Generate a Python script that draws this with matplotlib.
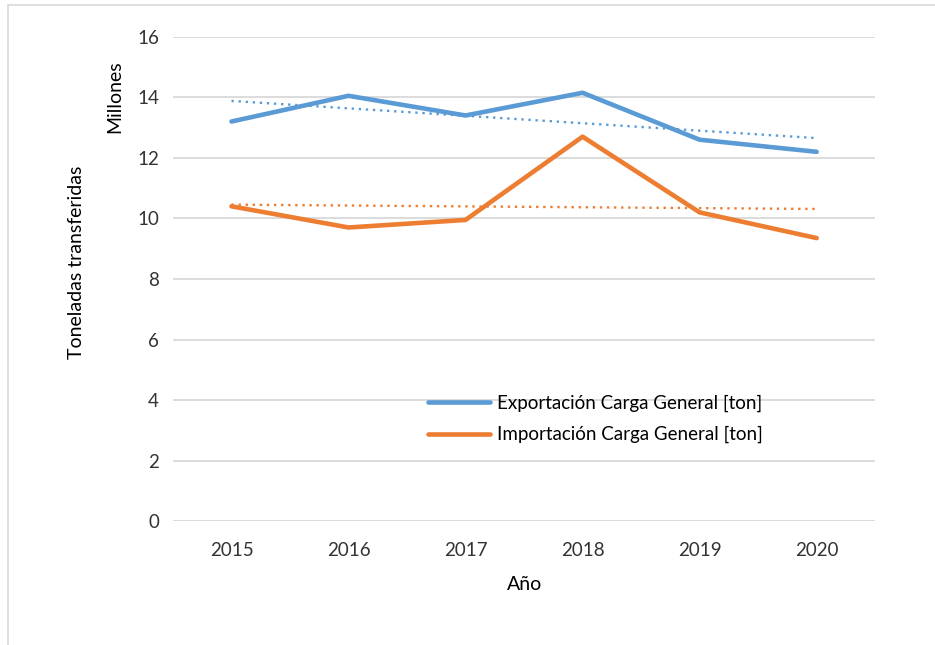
import matplotlib
matplotlib.use("Agg")
import matplotlib.pyplot as plt
import numpy as np
from matplotlib.patches import Rectangle

plt.rcParams["font.family"] = ["Lato", "DejaVu Sans"]

years = ["2015", "2016", "2017", "2018", "2019", "2020"]
exportacion = [13.2, 14.05, 13.4, 14.15, 12.6, 12.2]
importacion = [10.4, 9.7, 9.95, 12.7, 10.2, 9.35]
series_names = ["Exportación Carga General [ton]", "Importación Carga General [ton]"]
colors = ["#5B9BD5", "#ED7D31"]

fig = plt.figure(figsize=(9.35, 6.45), dpi=100)
ax = fig.add_axes([0.185, 0.192, 0.751, 0.751])

# marco del grafico
fig.patches.append(Rectangle((8 / 935, -0.1), 1.2, 1 - 5 / 645 + 0.1,
                             transform=fig.transFigure, fill=False,
                             edgecolor="#D9D9D9", linewidth=1.2))

x = np.arange(len(years))
for y, c, name in zip([exportacion, importacion], colors, series_names):
    ax.plot(x, y, color=c, linewidth=3.3, solid_capstyle="round", label=name, zorder=3)
    # linea de tendencia lineal
    m, b = np.polyfit(x, y, 1)
    ax.plot(x, m * x + b, color=c, linewidth=1.7, linestyle=(0, (1, 2.0)), zorder=3)

ax.set_xlim(-0.5, 5.5)
ax.set_ylim(0, 16)
ax.set_yticks(range(0, 17, 2))
ax.set_xticks(x)
ax.set_xticklabels(years)
ax.tick_params(length=0, labelsize=13.5, colors="#333333", pad=15)
ax.tick_params(axis="y", pad=10)
ax.grid(axis="y", color="#D9D9D9", linewidth=1.3)
ax.set_axisbelow(True)
for s in ax.spines.values():
    s.set_visible(False)

ax.set_xlabel("Año", fontsize=14, labelpad=12)
fig.text(77 / 935, 1 - 262 / 645, "Toneladas transferidas", rotation=90,
         ha="center", va="center", fontsize=14)
fig.text(115 / 935, 1 - 97 / 645, "Millones", rotation=90,
         ha="center", va="center", fontsize=14)

ax.legend(loc="center left", bbox_to_anchor=(411 / 935, 1 - 419 / 645),
          bbox_transform=fig.transFigure, frameon=False, fontsize=13.5,
          handlelength=3.3, handletextpad=0.4, labelspacing=0.75)

fig.savefig("out.png", dpi=100)
